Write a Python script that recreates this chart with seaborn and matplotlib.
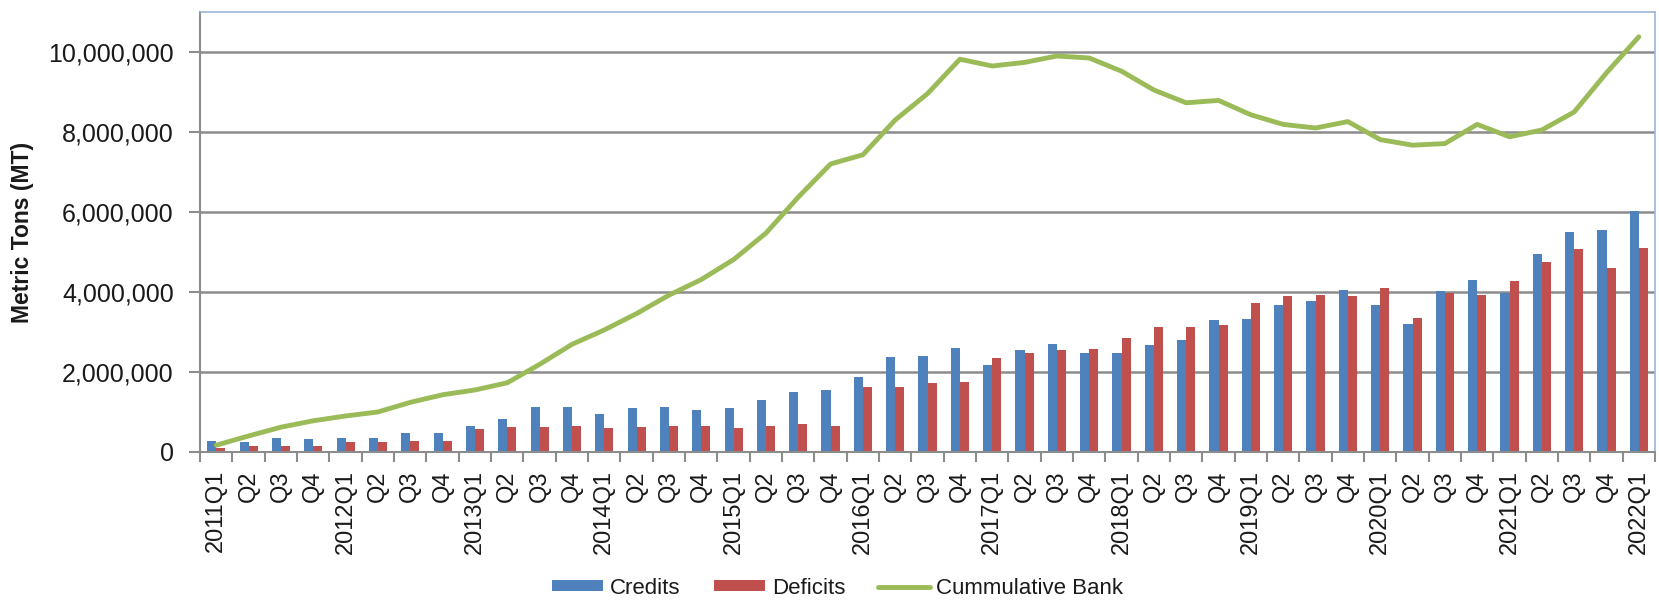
import numpy as np
import pandas as pd
import matplotlib
matplotlib.use("Agg")
import matplotlib.pyplot as plt
import seaborn as sns
from matplotlib.patches import Patch
from matplotlib.lines import Line2D
from matplotlib.ticker import FuncFormatter

# quarters 2011Q1 .. 2022Q1
quarters = [f"{y}Q{q}" for y in range(2011, 2023) for q in range(1, 5)][:45]
tick_labels = [q if q.endswith("Q1") else q[4:] for q in quarters]

# values in million metric tons
credits = [0.27, 0.24, 0.36, 0.33,
           0.36, 0.36, 0.47, 0.47,
           0.64, 0.83, 1.13, 1.12,
           0.96, 1.09, 1.12, 1.06,
           1.09, 1.29, 1.49, 1.56,
           1.88, 2.38, 2.41, 2.60,
           2.17, 2.54, 2.71, 2.47,
           2.48, 2.68, 2.79, 3.29,
           3.32, 3.68, 3.78, 4.05,
           3.68, 3.21, 4.03, 4.31,
           3.98, 4.95, 5.51, 5.56,
           6.02]
deficits = [0.10, 0.14, 0.14, 0.14,
            0.24, 0.24, 0.27, 0.27,
            0.57, 0.62, 0.62, 0.66,
            0.60, 0.63, 0.66, 0.66,
            0.60, 0.66, 0.71, 0.66,
            1.62, 1.62, 1.72, 1.76,
            2.34, 2.47, 2.54, 2.58,
            2.85, 3.12, 3.12, 3.18,
            3.72, 3.89, 3.92, 3.89,
            4.11, 3.35, 3.98, 3.92,
            4.27, 4.76, 5.07, 4.61,
            5.11]
bank = [0.17, 0.40, 0.62, 0.78,
        0.90, 1.00, 1.24, 1.43,
        1.55, 1.73, 2.19, 2.69,
        3.05, 3.46, 3.92, 4.31,
        4.81, 5.47, 6.37, 7.20,
        7.43, 8.30, 8.96, 9.82,
        9.65, 9.74, 9.90, 9.85,
        9.52, 9.05, 8.73, 8.79,
        8.43, 8.19, 8.10, 8.26,
        7.81, 7.67, 7.71, 8.19,
        7.88, 8.05, 8.50, 9.48,
        10.38]

C_BLUE = "#4F81BD"
C_RED = "#C0504D"
C_GREEN = "#9BBB59"
GRID = "#8C8C8C"
TXT = "#1a1a1a"

sns.set_style("white")
plt.rcParams["font.family"] = ["Liberation Sans", "DejaVu Sans"]

n = len(quarters)
df = pd.DataFrame({
    "Quarter": quarters * 2,
    "MT": [v * 1e6 for v in credits + deficits],
    "Series": ["Credits"] * n + ["Deficits"] * n,
})

fig = plt.figure(figsize=(16.59, 6), dpi=100)
ax = fig.add_axes([0.1206, 0.2467, 0.8770, 0.7333])

sns.barplot(data=df, x="Quarter", y="MT", hue="Series", order=quarters,
            palette={"Credits": C_BLUE, "Deficits": C_RED},
            width=0.56, gap=0, saturation=1, linewidth=0,
            legend=False, ax=ax, zorder=2)
sns.lineplot(x=np.arange(n), y=np.array(bank) * 1e6, color=C_GREEN, lw=3.5,
             ax=ax, zorder=3, solid_capstyle="round", solid_joinstyle="round")

ax.set_xlim(-0.5, n - 0.5)
ax.set_ylim(0, 11e6)
ax.set_yticks(np.arange(0, 10e6 + 1, 2e6))
ax.yaxis.set_major_formatter(FuncFormatter(lambda v, p: f"{v:,.0f}"))
ax.yaxis.grid(True, color=GRID, lw=1.8)
ax.set_axisbelow(True)

ax.set_xticks(np.arange(n))
ax.set_xticklabels(tick_labels, rotation=90, fontsize=17, color=TXT)
ax.set_xticks(np.arange(-0.5, n, 1), minor=True)
ax.tick_params(axis="x", which="major", length=0, pad=13)
ax.tick_params(axis="x", which="minor", length=7, width=1.5, color=GRID,
               direction="out", bottom=True)
ax.tick_params(axis="y", length=8, width=1.5, color=GRID, direction="out",
               pad=11, labelsize=18, labelcolor=TXT, left=True)

ax.set_xlabel("")
ax.set_ylabel("Metric Tons (MT)", fontsize=16.5, fontweight="bold", color=TXT)
ax.yaxis.set_label_coords(-0.114, 0.5)

for side in ["left", "bottom"]:
    ax.spines[side].set_color(GRID)
    ax.spines[side].set_linewidth(1.5)
for side in ["top", "right"]:
    ax.spines[side].set_color("#9DB6D8")
    ax.spines[side].set_linewidth(1.2)

handles = [Patch(facecolor=C_BLUE, edgecolor="none"),
           Patch(facecolor=C_RED, edgecolor="none"),
           Line2D([], [], color=C_GREEN, lw=3.5)]
fig.legend(handles, ["Credits", "Deficits", "Cummulative Bank"],
           loc="center", bbox_to_anchor=(0.505, 0.02), ncol=3, frameon=False,
           fontsize=16, handlelength=2.3, handleheight=0.4, handletextpad=0.3,
           columnspacing=1.5, labelcolor=TXT)

fig.savefig("out.png", dpi=100)
